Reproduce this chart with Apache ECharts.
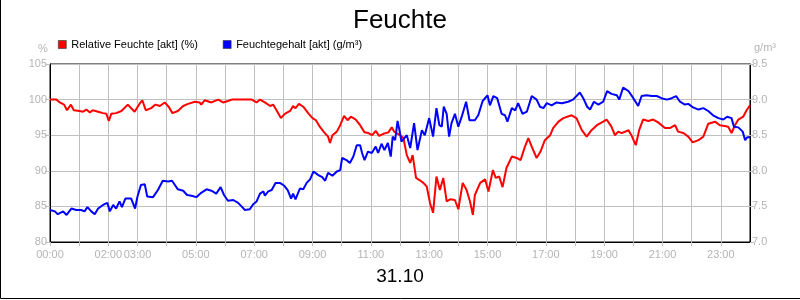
<!DOCTYPE html>
<html>
<head>
<meta charset="utf-8">
<script src="https://cdn.jsdelivr.net/npm/echarts@6/dist/echarts.min.js"></script>
<style>
html,body{margin:0;padding:0;background:#fff;}
#chart{width:800px;height:300px;}
</style>
</head>
<body>
<div id="chart"></div>
<script>
// Minutes after midnight for each reading
const relTime = [0,13,20,29,35,43,49,61,68,75,82,88,99,109,116,121,126,136,147,160,174,185,190,197,208,217,226,236,244,252,263,274,284,298,308,311,318,332,346,356,366,374,415,425,432,442,453,459,466,475,483,494,500,505,512,521,531,540,547,555,564,572,576,581,590,597,605,612,619,629,638,647,655,663,670,677,686,696,703,708,713,720,727,734,741,746,753,760,768,775,782,788,795,802,809,816,823,833,840,849,857,864,870,874,885,895,902,911,917,924,931,939,950,960,968,977,984,991,1001,1009,1018,1029,1035,1046,1056,1073,1083,1094,1104,1114,1125,1138,1145,1155,1162,1169,1176,1190,1196,1205,1212,1220,1231,1241,1251,1265,1275,1286,1292,1303,1313,1322,1334,1344,1354,1368,1378,1388,1395,1402,1409,1416,1426,1433,1440];
// Relative Feuchte [%]
const relValues = [100.0,100.0,99.6,99.3,98.5,99.3,98.5,98.4,98.3,98.6,98.2,98.5,98.3,98.1,98.0,97.0,98.0,98.1,98.4,99.3,98.3,99.5,99.9,98.5,98.8,99.3,99.1,99.6,99.0,98.1,98.4,99.1,99.4,99.7,99.6,99.3,99.9,99.6,100.0,99.6,99.8,100.0,100.0,99.6,100.0,99.6,99.1,99.3,98.5,97.4,98.0,98.4,99.1,98.8,99.4,99.0,98.1,97.4,97.1,96.2,95.4,94.8,93.9,95.0,95.5,96.4,97.7,97.1,97.6,97.2,96.4,95.4,95.3,95.0,95.6,94.9,95.2,95.4,96.1,95.5,95.3,95.0,94.6,92.2,91.1,92.2,89.0,88.7,88.3,87.8,85.4,84.1,89.2,87.3,89.0,85.7,86.0,85.9,84.6,88.3,87.3,85.7,83.8,86.6,88.3,88.8,87.1,90.1,89.0,89.2,87.7,90.4,92.0,91.8,91.5,93.4,94.6,93.4,91.8,92.7,94.3,95.0,96.0,96.9,97.4,97.8,97.4,95.7,94.8,95.7,96.4,96.9,97.2,96.2,95.0,95.5,95.3,95.7,95.0,93.6,95.7,97.2,97.0,97.2,96.8,96.0,96.0,96.4,95.5,95.3,94.8,94.0,94.3,94.8,96.6,96.9,96.4,96.3,96.2,95.3,96.4,97.2,97.6,98.5,99.2];

const absTime = [0,10,16,27,34,44,54,64,71,77,85,92,99,109,118,123,130,136,143,148,155,167,175,180,187,195,200,212,222,232,243,251,257,263,274,282,291,301,311,322,332,342,351,358,366,377,387,394,401,411,418,425,432,439,442,449,456,464,473,482,489,496,500,505,514,521,528,535,542,552,560,566,572,581,590,597,601,610,617,624,631,638,642,647,654,662,670,675,682,688,695,701,705,710,715,720,723,734,741,749,756,765,771,780,788,795,801,806,810,816,821,826,833,840,847,856,863,874,881,890,900,905,912,920,929,936,941,950,957,963,972,981,991,1001,1008,1015,1022,1032,1042,1053,1066,1076,1090,1097,1105,1111,1119,1128,1138,1146,1155,1166,1171,1179,1190,1200,1210,1217,1227,1238,1248,1258,1269,1279,1288,1296,1306,1313,1323,1334,1344,1354,1364,1375,1385,1393,1402,1407,1416,1425,1430,1434,1440];
// Feuchtegehalt [g/m³]
const absValues = [7.45,7.43,7.39,7.43,7.38,7.47,7.45,7.45,7.43,7.49,7.43,7.39,7.47,7.52,7.55,7.43,7.52,7.47,7.57,7.49,7.61,7.61,7.47,7.64,7.80,7.81,7.64,7.63,7.73,7.86,7.85,7.86,7.80,7.74,7.72,7.66,7.65,7.63,7.69,7.74,7.72,7.68,7.77,7.66,7.58,7.59,7.55,7.50,7.45,7.46,7.53,7.57,7.68,7.71,7.65,7.71,7.73,7.83,7.83,7.79,7.73,7.61,7.68,7.60,7.75,7.74,7.83,7.88,7.99,7.94,7.91,7.86,7.97,7.93,7.99,8.01,8.18,8.15,8.11,8.20,8.36,8.36,8.25,8.15,8.27,8.25,8.34,8.25,8.38,8.29,8.39,8.20,8.48,8.43,8.70,8.53,8.41,8.50,8.32,8.67,8.29,8.57,8.50,8.74,8.48,8.88,8.64,8.62,8.90,8.80,8.48,8.67,8.80,8.62,8.76,8.97,8.71,8.71,8.78,8.98,9.06,8.92,9.05,9.02,8.80,8.78,8.69,8.88,8.85,8.95,8.80,8.83,9.05,9.00,8.90,8.88,8.95,8.92,8.96,8.95,8.97,9.00,9.10,9.02,8.90,8.86,8.97,8.93,8.97,9.12,9.08,9.06,9.00,9.17,9.12,9.02,8.91,9.05,9.06,9.05,9.05,9.02,9.00,9.02,9.05,8.97,8.93,8.94,8.89,8.86,8.88,8.84,8.78,8.74,8.72,8.76,8.74,8.62,8.61,8.55,8.43,8.47,8.47];

const xLabelHours = [0,2,3,5,7,9,11,13,15,17,19,21,23];
const titleText = 'Feuchte';
const dateText = '31.10';
const relName = 'Relative Feuchte [akt] (%)';
const absName = 'Feuchtegehalt [akt] (g/m³)';

const pair = (t, v) => t.map((x, i) => [x, v[i]]);
const pad = n => (n < 10 ? '0' : '') + n;
const FONT = 'Liberation Sans, Arial, sans-serif';
const GRAY = '#b4b4b4';
const GRID = '#c0c0c0';

const chart = echarts.init(document.getElementById('chart'), null, {renderer: 'canvas'});
chart.setOption({
  animation: false,
  backgroundColor: '#fff',
  textStyle: {fontFamily: FONT},
  title: {
    text: titleText, left: 'center', top: 3,
    textStyle: {fontSize: 26, fontWeight: 'normal', color: '#000', fontFamily: FONT}
  },
  legend: {
    left: 58, top: 39, padding: 0, icon: 'rect', itemWidth: 8, itemHeight: 8, itemGap: 25,
    textStyle: {fontSize: 11, color: '#000', fontFamily: FONT},
    itemStyle: {borderColor: '#333', borderWidth: 0.6},
    data: [relName, absName]
  },
  grid: {left: 50, right: 50, top: 64, bottom: 58, show: true, borderColor: '#000', borderWidth: 1},
  xAxis: {
    type: 'value', min: 0, max: 1440, interval: 60,
    axisLine: {lineStyle: {color: '#000'}},
    axisTick: {show: true, length: 4, lineStyle: {color: GRID}},
    splitLine: {show: true, lineStyle: {color: GRID, width: 1}},
    axisLabel: {
      color: GRAY, fontSize: 11, margin: 7, fontFamily: FONT, showMaxLabel: false,
      formatter: v => xLabelHours.indexOf(v / 60) >= 0 ? pad(v / 60) + ':00' : ''
    }
  },
  yAxis: [
    {
      type: 'value', min: 80, max: 105, interval: 5, position: 'left',
      axisLine: {show: true, lineStyle: {color: '#000'}},
      axisTick: {show: true, length: 5, lineStyle: {color: GRID}},
      splitLine: {show: true, lineStyle: {color: GRID, width: 1}},
      axisLabel: {color: GRAY, fontSize: 11, margin: 3, fontFamily: FONT}
    },
    {
      type: 'value', min: 7, max: 9.5, interval: 0.5, position: 'right',
      axisLine: {show: true, lineStyle: {color: '#000'}},
      axisTick: {show: true, length: 4, lineStyle: {color: GRID}},
      splitLine: {show: false},
      axisLabel: {color: GRAY, fontSize: 11, margin: 2, fontFamily: FONT, formatter: v => v.toFixed(1)}
    }
  ],
  series: [
    {
      name: relName, type: 'line', yAxisIndex: 0, showSymbol: false, symbol: 'none',
      lineStyle: {color: '#ff0000', width: 2}, itemStyle: {color: '#ff0000'},
      data: pair(relTime, relValues)
    },
    {
      name: absName, type: 'line', yAxisIndex: 1, showSymbol: false, symbol: 'none',
      lineStyle: {color: '#0000ff', width: 2}, itemStyle: {color: '#0000ff'},
      data: pair(absTime, absValues)
    }
  ],
  graphic: [
    {type: 'text', left: 38, top: 43, style: {text: '%', fill: GRAY, fontSize: 11, fontFamily: FONT}},
    {type: 'text', left: 754, top: 42, style: {text: 'g/m³', fill: GRAY, fontSize: 11, fontFamily: FONT}},
    {type: 'text', left: 'center', top: 267, style: {text: dateText, fill: '#000', fontSize: 19, fontFamily: FONT}},
    {type: 'polyline', shape: {points: [[0.5, 0], [0.5, 298.5], [800, 298.5]]}, style: {stroke: '#000', lineWidth: 1, fill: null}}
  ]
});
</script>
</body>
</html>
